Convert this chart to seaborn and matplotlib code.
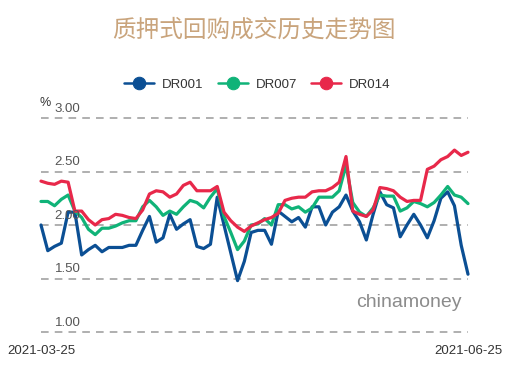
import numpy as np
import pandas as pd
import matplotlib
matplotlib.use('Agg')
import matplotlib.pyplot as plt
import seaborn as sns

sns.set_theme(style="white")
plt.rcParams['font.family'] = ['Liberation Sans', 'Noto Sans CJK SC', 'DejaVu Sans']

title = '质押式回购成交历史走势图'
series_names = ['DR001', 'DR007', 'DR014']
series_colors = ['#0b4f94', '#10b378', '#e8284a']
x_labels = ['2021-03-25', '2021-06-25']
y_ticks = [1.00, 1.50, 2.00, 2.50, 3.00]

dr001 = [2.00, 1.76, 1.80, 1.83, 2.12, 2.12, 1.72, 1.77, 1.81, 1.75,
         1.79, 1.79, 1.79, 1.81, 1.81, 1.95, 2.08, 1.84, 1.88, 2.10,
         1.96, 2.01, 2.05, 1.80, 1.78, 1.82, 2.26, 2.00, 1.74, 1.48,
         1.66, 1.93, 1.95, 1.95, 1.82, 2.13, 2.08, 2.03, 2.07, 1.98,
         2.17, 2.17, 2.00, 2.12, 2.17, 2.28, 2.13, 2.03, 1.86, 2.10,
         2.31, 2.19, 2.16, 1.89, 2.00, 2.10, 2.00, 1.88, 2.04, 2.25,
         2.31, 2.18, 1.81, 1.54]
dr007 = [2.22, 2.22, 2.18, 2.24, 2.28, 2.13, 2.07, 1.96, 1.91, 1.97,
         1.97, 1.99, 2.02, 2.04, 2.04, 2.17, 2.23, 2.17, 2.09, 2.13,
         2.10, 2.17, 2.23, 2.21, 2.16, 2.26, 2.34, 2.08, 1.93, 1.77,
         1.85, 2.00, 2.01, 2.06, 2.00, 2.19, 2.19, 2.15, 2.17, 2.12,
         2.16, 2.26, 2.26, 2.26, 2.32, 2.56, 2.21, 2.12, 2.08, 2.16,
         2.28, 2.27, 2.27, 2.13, 2.16, 2.22, 2.20, 2.17, 2.21, 2.28,
         2.36, 2.28, 2.26, 2.20]
dr014 = [2.41, 2.39, 2.38, 2.41, 2.40, 2.13, 2.13, 2.05, 2.00, 2.05,
         2.06, 2.10, 2.09, 2.07, 2.06, 2.14, 2.29, 2.32, 2.31, 2.26,
         2.29, 2.37, 2.40, 2.32, 2.32, 2.32, 2.36, 2.12, 2.04, 1.98,
         1.94, 1.99, 2.02, 2.05, 2.07, 2.11, 2.23, 2.25, 2.26, 2.26,
         2.31, 2.32, 2.32, 2.35, 2.40, 2.64, 2.13, 2.10, 2.08, 2.14,
         2.35, 2.34, 2.32, 2.26, 2.22, 2.23, 2.23, 2.52, 2.55, 2.61,
         2.64, 2.70, 2.65, 2.68]

n = len(dr001)
df = pd.DataFrame({
    'day': list(range(n)) * 3,
    'rate': dr001 + dr007 + dr014,
    'series': [s for s in series_names for _ in range(n)],
})

fig = plt.figure(figsize=(5.19, 3.71), dpi=100)
ax = fig.add_axes([41 / 519, 1 - 332 / 371, 427 / 519, 214 / 371])

sns.lineplot(data=df, x='day', y='rate', hue='series', hue_order=series_names,
             palette=series_colors, linewidth=2.3, ax=ax, legend=True)

ax.set_xlim(0, n - 1)
ax.set_ylim(1.0, 3.0)
for ln in ax.lines:
    ln.set_clip_on(False)

# dashed grid with labels sitting above each line
for v in y_ticks:
    ax.axhline(v, color='#9a9a9a', lw=1.1, ls=(0, (5, 4)), zorder=0, clip_on=False)
    ax.text(0.032, v + 0.03, f'{v:.2f}', transform=ax.get_yaxis_transform(),
            ha='left', va='bottom', fontsize=9.5, color='#555555')
ax.text(-0.003, 3.08, '%', transform=ax.get_yaxis_transform(), ha='left',
        va='bottom', fontsize=9, color='#333333')

ax.set_yticks([])
ax.set_xticks([0, n - 1])
ax.set_xticklabels(x_labels, fontsize=9.5, color='#333333')
ax.tick_params(axis='x', length=0, pad=9)
ax.set_xlabel('')
ax.set_ylabel('')
sns.despine(ax=ax, left=True, bottom=True)

ax.text(0.986, 0.14, 'chinamoney', transform=ax.transAxes, ha='right', va='center',
        fontsize=14, color='#8c8c8c')

leg = ax.get_legend()
handles = leg.legend_handles
leg.remove()
for h, c in zip(handles, series_colors):
    h.set_marker('o')
    h.set_markersize(9)
    h.set_markerfacecolor(c)
    h.set_markeredgecolor(c)
    h.set_linewidth(1.8)
fig.legend(handles, series_names, loc='center', bbox_to_anchor=(0.496, 1 - 85 / 371),
           ncol=3, frameon=False, fontsize=9.5, handlelength=2.3,
           columnspacing=1.05, handletextpad=0.6, labelcolor='#333333')

fig.text(0.49, 1 - 30 / 371, title, ha='center', va='center', fontsize=17,
         color='#c9a47c', family=['Noto Sans CJK SC', 'DejaVu Sans'])

fig.savefig('out.png', dpi=100)
